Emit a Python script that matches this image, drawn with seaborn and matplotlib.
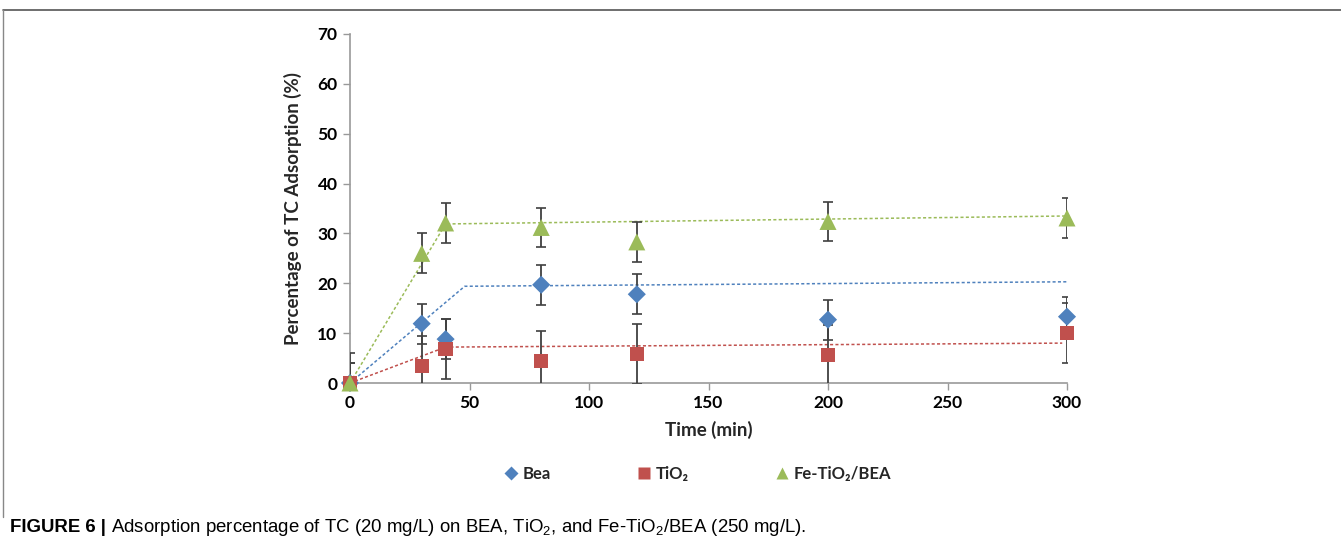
import numpy as np
import pandas as pd
import matplotlib
matplotlib.use("Agg")
import matplotlib.pyplot as plt
import seaborn as sns
from matplotlib.lines import Line2D

# ---- data ----
time = [0, 30, 40, 80, 120, 200, 300]
bea = [0, 11.9, 8.8, 19.7, 17.8, 12.7, 13.3]
tio2 = [0, 3.4, 6.8, 4.4, 5.8, 5.6, 10.1]
fe = [0, 26.0, 32.1, 31.2, 28.3, 32.4, 33.1]
bea_err = [4, 4, 4, 4, 4, 4, 4]
tio2_err = [6, 6, 6, 6, 6, 6, 6]
fe_err = [4, 4, 4, 4, 4, 4, 4]

# model fit curves (dotted)
bea_fit_t = [0, 48, 300]
bea_fit = [0, 19.4, 20.3]
tio2_fit_t = [0, 40, 298]
tio2_fit = [0, 7.2, 8.0]
fe_fit_t = [0, 40, 300]
fe_fit = [0, 31.9, 33.5]

labels = ["Bea", "TiO\u2082", "Fe-TiO\u2082/BEA"]
colors = ["#4F81BD", "#C0504D", "#9BBB59"]
markers = ["D", "s", "^"]
msizes = [85, 105, 150]

x_ticks = [0, 50, 100, 150, 200, 250, 300]
y_ticks = [0, 10, 20, 30, 40, 50, 60, 70]

sns.set_theme(style="white")
plt.rcParams["font.family"] = ["Lato", "DejaVu Sans"]
plt.rcParams["mathtext.fontset"] = "custom"
plt.rcParams["mathtext.rm"] = "Liberation Sans"

fig = plt.figure(figsize=(13.41, 5.44), dpi=100)
ax = fig.add_axes([350 / 1341, 1 - 383 / 544, (1067 - 350) / 1341, (383 - 34) / 544])

# dotted fit lines
for ft, fv, c in [(bea_fit_t, bea_fit, colors[0]), (tio2_fit_t, tio2_fit, colors[1]), (fe_fit_t, fe_fit, colors[2])]:
    df_fit = pd.DataFrame({"t": ft, "v": fv})
    sns.lineplot(data=df_fit, x="t", y="v", ax=ax, color=c, lw=1.1, linestyle=(0, (2, 1.5)), zorder=2)

# error bars
for vals, errs in [(bea, bea_err), (tio2, tio2_err), (fe, fe_err)]:
    ax.errorbar(time, vals, yerr=errs, fmt="none", ecolor="#404040", elinewidth=1.3,
                capsize=3.5, capthick=1.2, zorder=3)

# markers
for vals, c, m, s in zip([bea, tio2, fe], colors, markers, msizes):
    df = pd.DataFrame({"t": time, "v": vals})
    sns.scatterplot(data=df, x="t", y="v", ax=ax, color=c, marker=m, s=s,
                    edgecolor="none", zorder=4, clip_on=False, legend=False)

ax.set_xlim(0, 300)
ax.set_ylim(0, 70)
ax.set_xticks(x_ticks)
ax.set_yticks(y_ticks)
ax.set_xticklabels([str(v) for v in x_ticks], fontweight="bold", fontsize=12.5)
ax.set_yticklabels([str(v) for v in y_ticks], fontweight="bold", fontsize=12.5)
ax.tick_params(axis="both", which="both", direction="out", length=5, width=1, color="#999999",
               left=True, bottom=True, pad=4, labelcolor="black")
for sp in ["top", "right"]:
    ax.spines[sp].set_visible(False)
for sp in ["left", "bottom"]:
    ax.spines[sp].set_color("#999999")
    ax.spines[sp].set_linewidth(1.2)

ax.set_xlabel("Time (min)", fontweight="bold", fontsize=13.5, labelpad=7)
ax.set_ylabel("Percentage of TC Adsorption (%)", fontweight="bold", fontsize=13.5, labelpad=11)

# legend
handles = [Line2D([0], [0], marker=m, color="none", markerfacecolor=c, markeredgecolor="none",
                  markersize=ms, linestyle="none")
           for m, c, ms in zip(markers, colors, [7, 8, 9])]
fig.legend(handles, labels, loc="center", bbox_to_anchor=(696 / 1341, 1 - 474 / 544), ncol=3,
           frameon=False, prop={"weight": "bold", "size": 12}, columnspacing=5.0,
           handletextpad=0.1, handlelength=1.2)

# outer frame
fig.add_artist(Line2D([3 / 1341, 1], [1 - 10 / 544, 1 - 10 / 544], transform=fig.transFigure,
                      color="#555555", lw=1.2))
fig.add_artist(Line2D([3 / 1341, 3 / 1341], [1 - 10 / 544, 1 - 517 / 544], transform=fig.transFigure,
                      color="#888888", lw=1.0))

# caption
cap_y = 1 - 527 / 544
fam = ["Liberation Sans", "DejaVu Sans"]
t1 = fig.text(10 / 1341, cap_y, "FIGURE 6 |", fontsize=13.4, fontweight="bold", family=fam,
              va="center", ha="left", color="black")
fig.canvas.draw()
bb = t1.get_window_extent(renderer=fig.canvas.get_renderer())
x2 = (bb.x1 + 5) / fig.bbox.width
fig.text(x2, cap_y, "Adsorption percentage of TC (20 mg/L) on BEA, TiO$_2$, and Fe-TiO$_2$/BEA (250 mg/L).",
         fontsize=13.4, family=fam, va="center", ha="left", color="black")

fig.savefig("out.png", dpi=100)
